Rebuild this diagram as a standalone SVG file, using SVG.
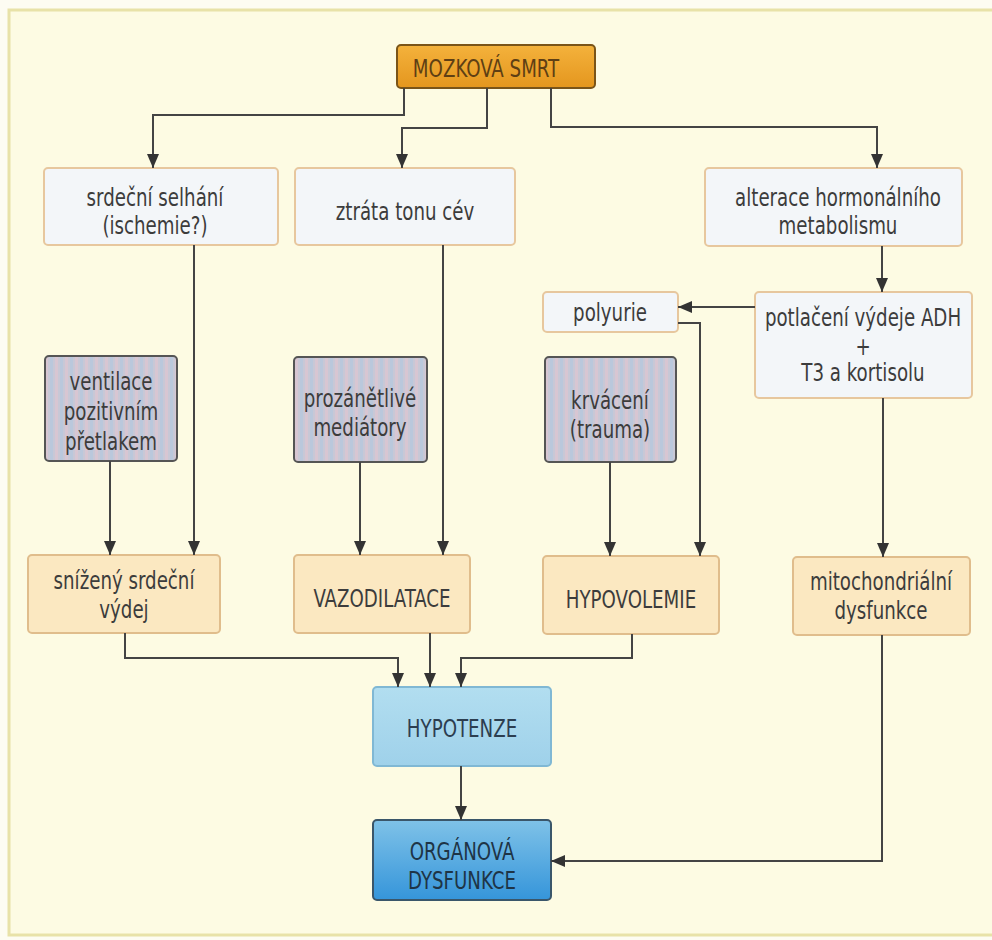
<svg xmlns="http://www.w3.org/2000/svg" width="992" height="940" viewBox="0 0 992 940">
<defs>
<style>
text{font-family:"DejaVu Sans Condensed","Liberation Sans Narrow","Liberation Sans",sans-serif;font-size:25px;fill:#3c3c3c;text-anchor:middle}
.w{fill:#f3f6f9;stroke:#e7c79e;stroke-width:2}
.y{fill:#fbe8c1;stroke:#e0bd8c;stroke-width:2}
.g{fill:url(#stripes);stroke:#555;stroke-width:2}
.c path{fill:none;stroke:#444;stroke-width:2}
</style>
<pattern id="stripes" width="10" height="10" patternUnits="userSpaceOnUse">
<rect width="10" height="10" fill="#c8c8d6"/>
<rect x="0" width="3" height="10" fill="#bac8dc"/>
<rect x="5" width="3" height="10" fill="#d8c6d2"/>
</pattern>
<linearGradient id="orange" x1="0" y1="0" x2="0" y2="1">
<stop offset="0" stop-color="#f4b23c"/><stop offset="1" stop-color="#e4961e"/>
</linearGradient>
<linearGradient id="blue1" x1="0" y1="0" x2="0" y2="1">
<stop offset="0" stop-color="#b2def0"/><stop offset="1" stop-color="#9fd1ea"/>
</linearGradient>
<linearGradient id="blue2" x1="0" y1="0" x2="0" y2="1">
<stop offset="0" stop-color="#7fc2e8"/><stop offset="1" stop-color="#3595da"/>
</linearGradient>
<marker id="a" markerWidth="14" markerHeight="12" refX="14" refY="6" orient="auto" markerUnits="userSpaceOnUse">
<path d="M0,0 L14,6 L0,12 z" fill="#333"/>
</marker>
</defs>
<rect width="992" height="940" fill="#fdfcf2"/>
<rect x="9" y="10" width="990" height="925" fill="#fdfbe3" stroke="#e8e2a8" stroke-width="3"/>

<g id="n-mozkova">
<rect x="397" y="45" width="198" height="43" rx="4" fill="url(#orange)" stroke="#7a5418" stroke-width="2"/>
<text transform="translate(486,77) scale(.81,1)" style="fill:#5e3f14">MOZKOVÁ SMRT</text>
</g>
<g id="n-srdecni-selhani">
<rect class="w" x="44" y="168" width="234" height="77" rx="4"/>
<text transform="translate(155,206) scale(.81,1)">srdeční selhání</text>
<text transform="translate(155,234) scale(.81,1)">(ischemie?)</text>
</g>
<g id="n-ztrata">
<rect class="w" x="295" y="168" width="220" height="77" rx="4"/>
<text transform="translate(405,220) scale(.81,1)">ztráta tonu cév</text>
</g>
<g id="n-alterace">
<rect class="w" x="705" y="168" width="257" height="78" rx="4"/>
<text transform="translate(838,206) scale(.81,1)">alterace hormonálního</text>
<text transform="translate(838,234) scale(.81,1)">metabolismu</text>
</g>
<g id="n-polyurie">
<rect class="w" x="543" y="292" width="135" height="40" rx="4"/>
<text transform="translate(610,321) scale(.81,1)">polyurie</text>
</g>
<g id="n-potlaceni">
<rect class="w" x="755" y="292" width="217" height="106" rx="4"/>
<text transform="translate(863,326) scale(.81,1)">potlačení výdeje ADH</text>
<text transform="translate(863,355) scale(.81,1)">+</text>
<text transform="translate(863,381) scale(.81,1)">T3 a kortisolu</text>
</g>
<g id="n-ventilace">
<rect class="g" x="45" y="356" width="132" height="105" rx="4"/>
<text transform="translate(111,390) scale(.81,1)">ventilace</text>
<text transform="translate(111,420) scale(.81,1)">pozitivním</text>
<text transform="translate(111,450) scale(.81,1)">přetlakem</text>
</g>
<g id="n-prozanetlive">
<rect class="g" x="294" y="357" width="133" height="105" rx="4"/>
<text transform="translate(360,407) scale(.81,1)">prozánětlivé</text>
<text transform="translate(360,436) scale(.81,1)">mediátory</text>
</g>
<g id="n-krvaceni">
<rect class="g" x="545" y="357" width="131" height="105" rx="4"/>
<text transform="translate(610,409) scale(.81,1)">krvácení</text>
<text transform="translate(610,438) scale(.81,1)">(trauma)</text>
</g>
<g id="n-snizeny">
<rect class="y" x="28" y="555" width="192" height="78" rx="4"/>
<text transform="translate(124,589) scale(.81,1)">snížený srdeční</text>
<text transform="translate(124,618) scale(.81,1)">výdej</text>
</g>
<g id="n-vazodilatace">
<rect class="y" x="294" y="555" width="176" height="78" rx="4"/>
<text transform="translate(382,607) scale(.81,1)">VAZODILATACE</text>
</g>
<g id="n-hypovolemie">
<rect class="y" x="543" y="556" width="176" height="78" rx="4"/>
<text transform="translate(631,608) scale(.81,1)">HYPOVOLEMIE</text>
</g>
<g id="n-mitochondrialni">
<rect class="y" x="793" y="557" width="177" height="78" rx="4"/>
<text transform="translate(881,590) scale(.81,1)">mitochondriální</text>
<text transform="translate(881,619) scale(.81,1)">dysfunkce</text>
</g>
<g id="n-hypotenze">
<rect x="373" y="687" width="178" height="79" rx="4" fill="url(#blue1)" stroke="#80b8d4" stroke-width="2"/>
<text transform="translate(462,737) scale(.81,1)" style="fill:#2c3e50">HYPOTENZE</text>
</g>
<g id="n-organova">
<rect x="373" y="820" width="178" height="80" rx="4" fill="url(#blue2)" stroke="#3a566a" stroke-width="2"/>
<text transform="translate(462,860) scale(.81,1)" style="fill:#1e3446">ORGÁNOVÁ</text>
<text transform="translate(462,889) scale(.81,1)" style="fill:#1e3446">DYSFUNKCE</text>
</g>

<g id="connectors" class="c">
<path d="M404,88 V115 H153 V168" marker-end="url(#a)"/>
<path d="M487,88 V128 H402 V168" marker-end="url(#a)"/>
<path d="M551,88 V127 H877 V168" marker-end="url(#a)"/>
<path d="M194,245 V555" marker-end="url(#a)"/>
<path d="M110,461 V555" marker-end="url(#a)"/>
<path d="M360,462 V555" marker-end="url(#a)"/>
<path d="M443,245 V555" marker-end="url(#a)"/>
<path d="M610,462 V556" marker-end="url(#a)"/>
<path d="M678,323 H700 V556" marker-end="url(#a)"/>
<path d="M882,246 V292" marker-end="url(#a)"/>
<path d="M755,307 H678" marker-end="url(#a)"/>
<path d="M883,398 V557" marker-end="url(#a)"/>
<path d="M125,633 V658 H398 V687" marker-end="url(#a)"/>
<path d="M430,633 V687" marker-end="url(#a)"/>
<path d="M632,634 V658 H461 V687" marker-end="url(#a)"/>
<path d="M461,766 V820" marker-end="url(#a)"/>
<path d="M882,635 V861 H551" marker-end="url(#a)"/>
</g>
</svg>
